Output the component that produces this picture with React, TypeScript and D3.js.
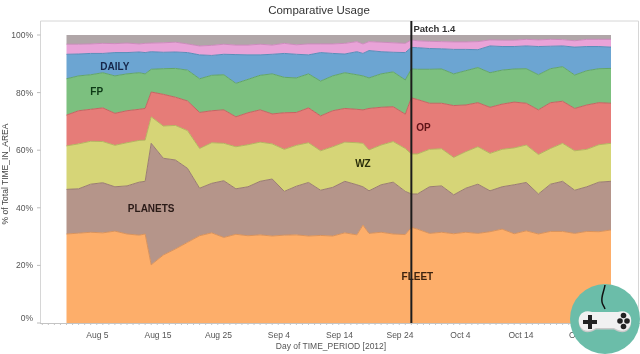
import React from "react";
import * as d3 from "d3";

const title = "Comparative Usage";
const xTitle = "Day of TIME_PERIOD [2012]";
const yTitle = "% of Total TIME_IN_AREA";
const yTicks = [0, 20, 40, 60, 80, 100];
const xTickDates = ["2012-08-05", "2012-08-15", "2012-08-25", "2012-09-04", "2012-09-14", "2012-09-24", "2012-10-04", "2012-10-14", "2012-10-24"];
const startDate = "2012-07-31";
const endDate = "2012-10-29";
const patchDate = "2012-09-26";

// days after 31 Jul at which the bands were read
const dayOffsets = [0,2,4,6,8,10,12,13,14,16,18,20,22,24,26,28,30,32,34,36,38,40,42,44,46,48,49,50,52,54,56,57,58,60,62,64,66,68,70,72,74,76,78,80,82,84,86,88,90];

// cumulative top edge of each band, in percent
const fleetTop = [30.9,31.2,31.5,31.3,31.9,30.9,30.5,30.9,20.2,23.6,25.7,28,30.3,31.3,29.7,30.8,30.3,30.6,30.2,30.5,30.6,30.2,30.4,30.2,31.3,30.6,34,31.1,31.5,30.9,30.7,33.2,32.6,31.1,31.5,31,31.5,31.1,31.7,32.6,31,32,30.9,31.8,31.8,31.1,31.8,31.7,32.3];
const planetsTop = [46.4,46.6,48.2,48.7,47.3,47.6,48.9,49.2,62.4,57.2,56.6,53.7,46.8,48.5,49.4,46.6,47.3,49.2,50,45.7,47.5,48.8,46.1,47.1,49.2,48,47.3,45.9,48,48.9,45.7,44.8,44.8,47.3,47.6,44.5,46.8,48.2,45.9,47.3,48,48.8,44.8,48.2,49.2,46.1,47.3,48.9,49.2];
const wzTop = [61.5,62.2,63.1,63,61.7,62.6,63.4,63.5,71.6,68.4,68.6,66.8,60.6,62.6,62.4,61.2,61.9,62.8,62.2,60.3,61.7,62.6,59.8,61.2,62.8,62.6,62.4,60.1,61.8,63,60.6,58.7,58.7,60.3,60.5,57.5,59.5,61.2,58.9,60.3,60.8,61.8,58.5,60.6,62.4,59.8,60.3,61.9,62.4];
const opTop = [72.2,73.7,74.2,74.7,72.8,73.7,74.2,74.5,80.2,79.4,78.4,77.1,73.1,73.7,74,71.6,73,74,72.6,73,73.1,74.7,71.9,73.7,74.5,74.2,74,74.5,74.9,75.1,72.5,78.2,77.6,76.3,76.3,75.5,75.7,76.5,74.9,76,76.7,76.3,74,76.5,77,74.5,75.7,76.5,76.3];
const fpTop = [84.8,85.8,86.2,86.9,85.8,86.5,86.9,86.5,88.1,88.3,88.4,87.8,84.8,86,86.2,83.2,84.6,86,86.5,85.3,85.1,86.5,84,85.8,86.9,86.2,85.8,85.1,86.5,87.2,84.4,88.2,88.1,88.1,88.2,86.5,87.6,88.7,86.9,87.8,88.2,88.3,86.2,88.3,89,86.1,87.6,88.3,88.4];
const dailyTop = [93.3,93.4,93.6,93.6,93.9,93.9,94.1,93.9,94.2,94,94.1,93.9,93.1,92.9,93.3,93.2,93.1,93.1,93.3,93.6,93.3,93.1,93.9,93.6,93.4,94.2,93.6,94.6,94.2,94,93.9,95.7,95.6,95.3,95.2,95,95,94.9,96.2,96,96,96.2,96,96.1,96.2,95.8,96,96,95.8];
const pinkTop = [96.8,96.8,96.9,97.1,97,97.2,96.9,97.1,97.2,97.3,97.5,96.9,96.2,96.4,96.8,96.5,96.5,96.8,96.5,97.1,96.6,96.9,96.9,96.9,97.1,97.7,96.9,97.7,97.5,97.3,97.1,98.3,98,97.8,97.7,97.6,97.6,97.7,98.3,98.2,98.2,98.5,98.3,98.5,98.4,98,98.5,98.5,98.5];
const grayTop = dayOffsets.map(() => 100);
const baseline = dayOffsets.map(() => 0);

const bandTops = [fleetTop, planetsTop, wzTop, opTop, fpTop, dailyTop, pinkTop, grayTop];
const bandFills = ["#FDAE6B", "#B5958A", "#D6D577", "#E67B78", "#7CC07F", "#6CA5D2", "#E9A3D8", "#B0A6A8"];
const bandEdges = ["#D9925A", "#9A7C72", "#B5B45F", "#C46462", "#62A568", "#5A8DB8", "#CC8ABC", "#9A9092"];

const bandLabels = [
  { text: "DAILY", date: "2012-08-08", value: 88.0, color: "#16264A" },
  { text: "FP", date: "2012-08-05", value: 79.2, color: "#0F3A18" },
  { text: "OP", date: "2012-09-28", value: 66.5, color: "#5E1218" },
  { text: "WZ", date: "2012-09-18", value: 54.2, color: "#2A2E08" },
  { text: "PLANETS", date: "2012-08-14", value: 38.5, color: "#2A1A18" },
  { text: "FLEET", date: "2012-09-27", value: 15, color: "#3E2410" },
];

const day = (s: string) => new Date(s + "T00:00:00Z");
const FONT = "'Liberation Sans', Arial, sans-serif";

export default function App() {
  const x = d3.scaleUtc().domain([day(startDate), day(endDate)]).range([66.5, 611]);
  const y = d3.scaleLinear().domain([0, 100]).range([323, 35]);
  const dates = dayOffsets.map((o) => d3.utcDay.offset(day(startDate), o));
  const minor = d3.utcDay.range(d3.utcDay.offset(day(startDate), -4), d3.utcDay.offset(day(endDate), 4));

  const area = (lo: number[], hi: number[]) =>
    d3.area<number>()
      .x((i) => x(dates[i]))
      .y0((i) => y(lo[i]))
      .y1((i) => y(hi[i]))(dates.map((_, i) => i)) as string;
  const edge = (hi: number[]) =>
    d3.line<number>()
      .x((i) => x(dates[i]))
      .y((i) => y(hi[i]))(dates.map((_, i) => i)) as string;

  return (
    <svg width={640} height={354} style={{ position: "absolute", left: 0, top: 0, background: "#fff" }} fontFamily={FONT}>
      <defs>
        <filter id="soft" x="0" y="0" width="100%" height="100%">
          <feGaussianBlur stdDeviation="0.35" />
        </filter>
      </defs>
      <g filter="url(#soft)">
      <text x={319} y={14} textAnchor="middle" fontSize={11.5} fill="#333">{title}</text>
      <path d="M40.5 323 V21 H638.5 V323" fill="none" stroke="#D6D6D6" strokeWidth={1} />
      {bandTops.map((hi, k) => (
        <path key={k} d={area(k === 0 ? baseline : bandTops[k - 1], hi)} fill={bandFills[k]} />
      ))}
      {bandTops.slice(0, -1).map((hi, k) => (
        <path key={k} d={edge(hi)} fill="none" stroke={bandEdges[k]} strokeWidth={1} />
      ))}
      <line x1={40} x2={640} y1={323.5} y2={323.5} stroke="#C4C4C4" />
      {minor.map((d, i) => (
        <line key={i} x1={x(d)} x2={x(d)} y1={323} y2={325} stroke="#C4C4C4" />
      ))}
      {yTicks.map((t) => (
        <g key={t}>
          <line x1={37} x2={40.5} y1={y(t)} y2={y(t)} stroke="#BBB" />
          <text x={33} y={t === 0 ? 321 : y(t) + 3} textAnchor="end" fontSize={8.5} fill="#555">{t}%</text>
        </g>
      ))}
      {xTickDates.map((s) => (
        <text key={s} x={x(day(s)) + 0.7} y={337.5} textAnchor="middle" fontSize={8.5} fill="#555">
          {d3.utcFormat("%b %-d")(day(s))}
        </text>
      ))}
      <text x={331} y={348.5} textAnchor="middle" fontSize={8.5} fill="#555">{xTitle}</text>
      <text transform="translate(7.5 174) rotate(-90)" textAnchor="middle" fontSize={8.5} fill="#444">{yTitle}</text>
      {bandLabels.map((l) => (
        <text key={l.text} x={x(day(l.date))} y={y(l.value)} textAnchor="middle" fontSize={10} fontWeight={700} fill={l.color}>{l.text}</text>
      ))}
      <line x1={x(day(patchDate))} x2={x(day(patchDate))} y1={21} y2={323} stroke="#1C1C1C" strokeWidth={2} />
      <text x={413.5} y={31.5} fontSize={9.5} fontWeight={700} fill="#333">Patch 1.4</text>
      </g>
      <g>
        <circle cx={605} cy={319} r={35} fill="#6BBDA9" />
        <path d="M605 285 C604 292 601 296 602 302 C602.5 305 604 306 605 309" fill="none" stroke="#111" strokeWidth={1.5} />
        <path d="M592 312 H618 C628 309 634 317 630 326 C626 333 619 331 614 328 H596 C591 331 584 333 580 326 C576 317 582 309 592 312 Z" fill="#C9C9C9" transform="translate(0 1.5)" />
        <path d="M592 312 H618 C628 309 634 317 630 326 C626 333 619 331 614 328 H596 C591 331 584 333 580 326 C576 317 582 309 592 312 Z" fill="#F1F1F1" />
        <path d="M588 315 H592 V320 H597 V324 H592 V329 H588 V324 H583 V320 H588 Z" fill="#222" />
        <circle cx={620} cy={321} r={2.8} fill="#222" />
        <circle cx={627} cy={321} r={2.8} fill="#222" />
        <circle cx={623.5} cy={315.5} r={2.8} fill="#222" />
        <circle cx={623.5} cy={326.5} r={2.8} fill="#222" />
      </g>
    </svg>
  );
}
